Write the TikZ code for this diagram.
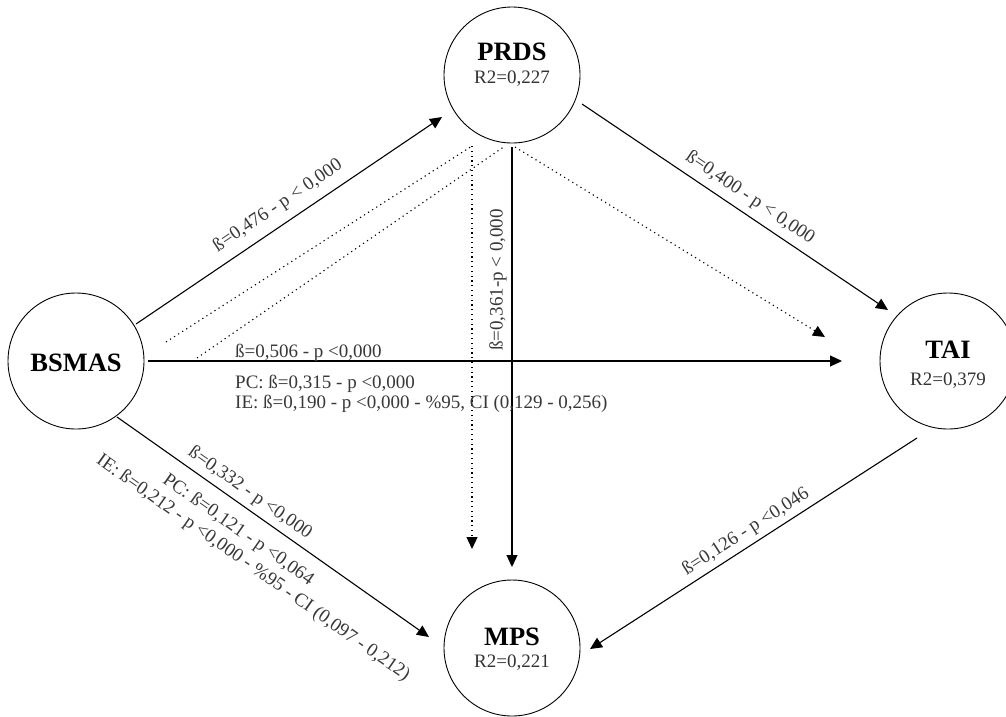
\documentclass[tikz,border=0pt]{standalone}
\usepackage{fontspec}
\setmainfont{Liberation Serif}
\usetikzlibrary{arrows.meta,calc}
\begin{document}
\begin{tikzpicture}[x=1pt,y=-1pt,
  var/.style={circle, draw, line width=0.9pt, minimum size=136pt, inner sep=0pt},
  ttl/.style={font=\fontsize{26.5}{28}\selectfont\bfseries, anchor=base, inner sep=0pt},
  rsq/.style={font=\fontsize{19}{21}\selectfont, text=black!80, anchor=base, inner sep=0pt},
  lbl/.style={font=\fontsize{19}{21}\selectfont, text=black!78, inner sep=0pt},
  tip/.style={-{Triangle[length=12pt,width=11pt]}},
  arrowline/.style={line width=1.1pt, tip},
  dotline/.style={line width=1.1pt, dash pattern=on 1.2pt off 3.6pt},
]
\useasboundingbox (0,0) rectangle (1006,716);

% variables
\node[var] (bsmas) at (76,361) {};
\node[var] (prds) at (512,75) {};
\node[var] (tai) at (948,361) {};
\node[var] (mps) at (512,648) {};

\node[ttl] (bsmasT) at (76,371) {BSMAS};
\node[ttl] (prdsT) at (512,60) {PRDS};
\node[rsq] (prdsR) at (512,83) {R2=0,227};
\node[ttl] (taiT) at (948,358) {TAI};
\node[rsq] (taiR) at (948,385) {R2=0,379};
\node[ttl] (mpsT) at (512,645) {MPS};
\node[rsq] (mpsR) at (512,667) {R2=0,221};

% indirect (dotted) paths
\draw[dotline] ($(bsmas)+(90,-19)$) -- ($(prds)+(-40,71)$);
\draw[dotline] ($(bsmas)+(121,-3)$) -- ($(prds)+(-7,71)$);
\draw[dotline, tip] ($(prds)+(-40,71)$) -- ($(mps)+(-40,-99)$);
\draw[dotline, tip] ($(prds)+(3,72)$) -- ($(tai)+(-123,-24)$);

% direct paths
\draw[arrowline] ($(bsmas)+(60,-37)$) -- ($(prds)+(-70,42)$);
\draw[arrowline] ($(prds)+(0,72)$) -- ($(mps)+(0,-81)$);
\draw[arrowline] ($(prds)+(70,29)$) -- ($(tai)+(-60,-51)$);
\draw[arrowline] ($(bsmas)+(72,0)$) -- ($(tai)+(-106,0)$);
\draw[arrowline] ($(bsmas)+(41,56)$) -- ($(mps)+(-83,-11)$);
\draw[arrowline] ($(tai)+(-31,77)$) -- ($(mps)+(78,1)$);

% labels
\node[lbl, rotate=34.1] (l1) at (278,206) {ß=0,476 - p < 0,000};
\node[lbl, rotate=-34] (l2) at (750,198) {ß=0,400 - p < 0,000};
\node[lbl, rotate=90] (l3) at (498,280) {ß=0,361-p < 0,000};
\node[lbl, anchor=base west] (l4) at (235,357) {ß=0,506 - p <0,000};
\node[lbl, anchor=base west] (l5) at (235,388) {PC: ß=0,315 - p <0,000};
\node[lbl, anchor=base west] (l6) at (235,408) {IE: ß=0,190 - p <0,000 - \%95, CI (0,129 - 0,256)};
\node[lbl, rotate=-35.2] (l7) at (250,493) {ß=0,332 - p <0,000};
\node[lbl, rotate=-35.2] (l8) at (238,530) {PC: ß=0,121 - p <0,064};
\node[lbl, rotate=-35.2] (l9) at (253,568) {IE: ß=0,212 - p <0,000 - \%95 - CI (0,097 - 0,212)};
\node[lbl, rotate=32.8] (l10) at (746,532) {ß=0,126 - p <0,046};
\end{tikzpicture}
\end{document}
